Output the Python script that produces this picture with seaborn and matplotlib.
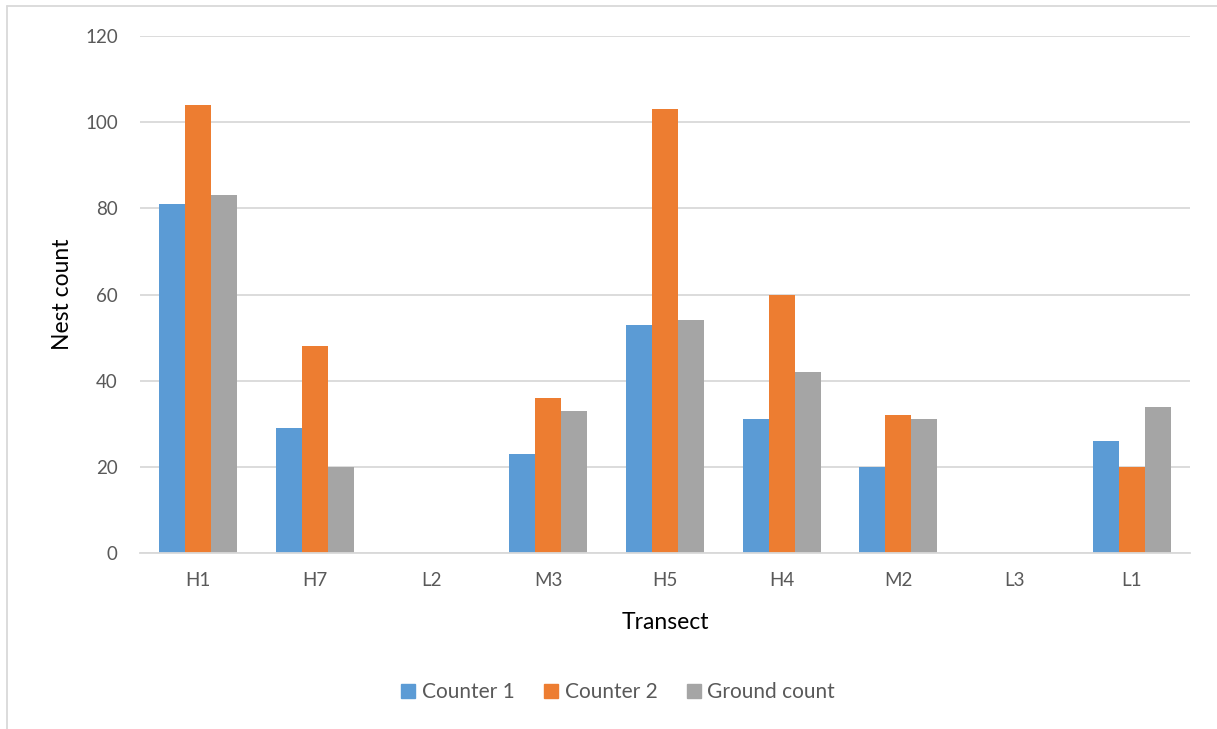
import matplotlib
matplotlib.use("Agg")
import matplotlib.pyplot as plt
import matplotlib.lines as mlines
import seaborn as sns
import pandas as pd

# Nest counts per transect
transects = ["H1", "H7", "L2", "M3", "H5", "H4", "M2", "L3", "L1"]
counter_1 = [81, 29, 0, 23, 53, 31, 20, 0, 26]
counter_2 = [104, 48, 0, 36, 103, 60, 32, 0, 20]
ground_count = [83, 20, 0, 33, 54, 42, 31, 0, 34]
series_names = ["Counter 1", "Counter 2", "Ground count"]
y_ticks = [0, 20, 40, 60, 80, 100, 120]

colors = ["#5B9BD5", "#ED7D31", "#A5A5A5"]
text_grey = "#595959"
grid_grey = "#D9D9D9"

df = pd.DataFrame({
    "Transect": transects * 3,
    "Nest count": counter_1 + counter_2 + ground_count,
    "Series": [s for s in series_names for _ in transects],
})

sns.set_theme(style="white")
plt.rcParams["font.family"] = ["Lato", "DejaVu Sans"]

fig = plt.figure(figsize=(12.17, 7.29), dpi=100)
W, H = 1217, 729
ax = fig.add_axes([140 / W, 1 - 553 / H, 1050 / W, 517 / H])

sns.barplot(data=df, x="Transect", y="Nest count", hue="Series",
            palette=colors, order=transects, hue_order=series_names,
            width=0.67, gap=0, saturation=1, linewidth=0, ax=ax, legend=False)

ax.set_ylim(0, 120)
ax.set_xlim(-0.5, len(transects) - 0.5)
ax.set_yticks(y_ticks)
ax.set_yticklabels([str(t) for t in y_ticks])
ax.yaxis.grid(True, color=grid_grey, linewidth=1.3)
ax.set_axisbelow(True)
for side in ["top", "right", "left"]:
    ax.spines[side].set_visible(False)
ax.spines["bottom"].set_color(grid_grey)
ax.spines["bottom"].set_linewidth(1.3)

ax.tick_params(axis="y", length=0, pad=16, labelsize=13.5, labelcolor=text_grey)
ax.tick_params(axis="x", length=0, pad=14, labelsize=13.5, labelcolor=text_grey)

ax.set_xlabel("Transect", fontsize=16.5, color="black")
ax.set_ylabel("Nest count", fontsize=16.5, color="black")
ax.xaxis.set_label_coords(0.5, -0.115)
ax.yaxis.set_label_coords(-0.064, 0.5)

handles = [mlines.Line2D([], [], marker="s", linestyle="none", markersize=10,
                         markerfacecolor=c, markeredgecolor=c) for c in colors]
fig.legend(handles, series_names, loc="center", bbox_to_anchor=(618 / W, 1 - 692 / H),
           ncol=3, frameon=False, fontsize=15, labelcolor=text_grey,
           handlelength=0.7, handletextpad=0.3, columnspacing=1.4)

# light outer frame along the top and left edges
fig.add_artist(mlines.Line2D([7 / W, 7 / W], [0, 1 - 6 / H], transform=fig.transFigure,
                             color="#D9D9D9", linewidth=1.3))
fig.add_artist(mlines.Line2D([7 / W, 1], [1 - 6 / H, 1 - 6 / H], transform=fig.transFigure,
                             color="#D9D9D9", linewidth=1.3))

fig.savefig("out.png", dpi=100, facecolor="white")
